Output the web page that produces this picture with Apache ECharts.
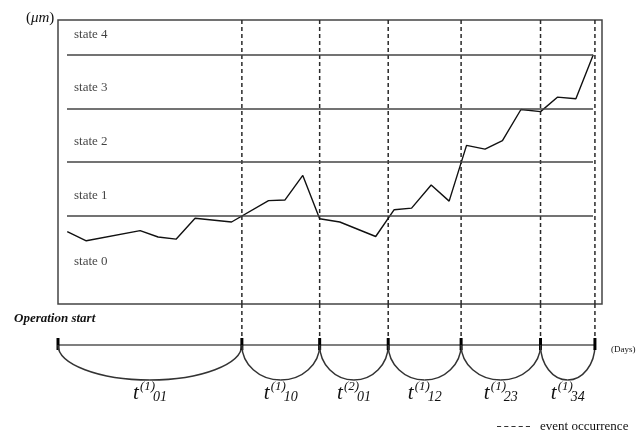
<!DOCTYPE html>
<html><head><meta charset="utf-8">
<script src="https://cdn.jsdelivr.net/npm/echarts@6/dist/echarts.min.js"></script>
<style>html,body{margin:0;padding:0;background:#fff}#c{width:643px;height:434px}</style>
</head><body><div id="c"></div>
<script>
// ---- data ----
const days = [1.7,5.2,15.1,18.4,21.7,25.2,31.9,38.7,41.7,45.0,48.1,51.8,58.4,61.8,65.0,68.6,71.9,75.1,78.5,81.7,85.1,88.7,91.8,95.2,98.4];
const wear = [7.0,5.3,7.2,6.0,5.6,9.5,8.8,12.8,12.9,17.5,9.4,8.8,6.1,11.1,11.4,15.7,12.7,23.1,22.4,24.0,29.8,29.4,32.1,31.8,40.0];
const eventDays = [33.8,48.1,60.7,74.1,88.7,98.7];
const stateBoundaries = [10,20,30,40];
const stateNames = ['state 0','state 1','state 2','state 3','state 4'];
const sojournSup = ['(1)','(1)','(2)','(1)','(1)','(1)'];
const sojournSub = ['01','10','01','12','23','34'];

// ---- layout / style constants ----
const SERIF = '"Liberation Serif", "Times New Roman", serif';
const X_MIN = 0, X_MAX = 100, Y_MIN = -6.5, Y_MAX = 46.5;
const LINE_X0 = 1.65, LINE_X1 = 98.35;
const TL_Y = 41, DASH_END = 32, TICK_TOP = 34, TICK_BOT = 46, ARC_DEPTH = 35;
const ticks = [0].concat(eventDays);

const stateLabelData = stateNames.map((n, k) => [2.94, k === 0 ? stateBoundaries[0] - 8.6 : stateBoundaries[k - 1] + 3.8, n]);

function renderEvents(params, api) {
  const x = api.value(0);
  const a = api.coord([x, Y_MAX]), b = api.coord([x, Y_MIN]);
  return {type: 'line', shape: {x1: a[0], y1: a[1], x2: b[0], y2: b[1]},
    style: {stroke: '#2a2a2a', lineWidth: 1.5, lineDash: [4, 3], fill: null}};
}

function renderTimeline(params, api) {
  const i = params.dataIndex;
  const x = api.value(0);
  const p = api.coord([x, TL_Y]);
  const children = [];
  if (i === 0) {
    const e = api.coord([ticks[ticks.length - 1], TL_Y]);
    children.push({type: 'line', shape: {x1: p[0], y1: p[1], x2: e[0], y2: e[1]},
      style: {stroke: '#555', lineWidth: 1.5}});
  }
  if (i > 0) {
    const top = api.coord([x, 0]), bot = api.coord([x, DASH_END]);
    children.push({type: 'line', shape: {x1: p[0], y1: top[1], x2: p[0], y2: bot[1]},
      style: {stroke: '#2a2a2a', lineWidth: 1.5, lineDash: [4, 3]}});
    const q = api.coord([ticks[i - 1], TL_Y]);
    const bb = api.coord([x, TL_Y + ARC_DEPTH]);
    const rx = (p[0] - q[0]) / 2, ry = bb[1] - p[1], cx = (p[0] + q[0]) / 2, y = p[1], k = 0.5523;
    children.push({type: 'bezierCurve', shape: {x1: q[0], y1: y, cpx1: q[0], cpy1: y + k * ry, cpx2: cx - k * rx, cpy2: y + ry, x2: cx, y2: y + ry},
      style: {stroke: '#333', lineWidth: 1.5, fill: null}});
    children.push({type: 'bezierCurve', shape: {x1: cx, y1: y + ry, cpx1: cx + k * rx, cpy1: y + ry, cpx2: p[0], cpy2: y + k * ry, x2: p[0], y2: y},
      style: {stroke: '#333', lineWidth: 1.5, fill: null}});
    const L = cx - 17;
    const yt = api.coord([x, 89])[1], ys = api.coord([x, 83])[1], yb = api.coord([x, 93.5])[1];
    children.push({type: 'text', x: L, y: yt, style: {text: 't', font: 'italic 21px ' + SERIF, fill: '#111', align: 'left', verticalAlign: 'middle'}});
    children.push({type: 'text', x: L + 7, y: ys, style: {text: sojournSup[i - 1], font: 'italic 13px ' + SERIF, fill: '#111', align: 'left', verticalAlign: 'middle'}});
    children.push({type: 'text', x: L + 20, y: yb, style: {text: sojournSub[i - 1], font: 'italic 14px ' + SERIF, fill: '#111', align: 'left', verticalAlign: 'middle'}});
  }
  const t1 = api.coord([x, TICK_TOP]), t2 = api.coord([x, TICK_BOT]);
  children.push({type: 'line', shape: {x1: p[0], y1: t1[1], x2: p[0], y2: t2[1]},
    style: {stroke: '#000', lineWidth: 3}});
  return {type: 'group', children};
}

const chart = echarts.init(document.getElementById('c'), null, {renderer: 'canvas'});
chart.setOption({
  animation: false,
  backgroundColor: '#fff',
  title: [
    {text: '{p|(}{m|μm}{p|)}', left: 26, top: 11, padding: 0,
      textStyle: {fontWeight: 'normal', rich: {
        p: {fontFamily: SERIF, fontSize: 15, fontWeight: 'normal', color: '#111'},
        m: {fontFamily: SERIF, fontSize: 15, fontStyle: 'italic', fontWeight: 'normal', color: '#111'}}}},
    {text: 'Operation start', left: 14, top: 312, padding: 0,
      textStyle: {fontFamily: SERIF, fontSize: 13, fontStyle: 'italic', fontWeight: 'bold', color: '#111'}},
    {text: '(Days)', left: 611, top: 345, padding: 0,
      textStyle: {fontFamily: SERIF, fontSize: 9, fontWeight: 'normal', color: '#111'}}
  ],
  legend: {
    left: 497, top: 420, padding: 0,
    itemWidth: 33, itemHeight: 2,
    selectedMode: false,
    data: [{name: 'event occurrence', icon: 'path://M0,0H4V1H0Z M7,0H11V1H7Z M14,0H18V1H14Z M21,0H25V1H21Z M28,0H32V1H28Z'}],
    textStyle: {fontFamily: SERIF, fontSize: 13, color: '#111', padding: [0, 0, 0, 5]}
  },
  grid: [
    {left: 58, right: 41, top: 20, bottom: 130, show: true, borderColor: '#444', borderWidth: 1.5, backgroundColor: 'transparent'},
    {left: 58, right: 41, top: 304, bottom: 30, show: false}
  ],
  xAxis: [
    {type: 'value', gridIndex: 0, min: X_MIN, max: X_MAX, show: false},
    {type: 'value', gridIndex: 1, min: X_MIN, max: X_MAX, show: false}
  ],
  yAxis: [
    {type: 'value', gridIndex: 0, min: Y_MIN, max: Y_MAX, show: false},
    {type: 'value', gridIndex: 1, min: 0, max: 100, inverse: true, show: false}
  ],
  series: [
    {type: 'line', name: 'boundaries', xAxisIndex: 0, yAxisIndex: 0, data: [], silent: true,
      markLine: {silent: true, symbol: 'none', label: {show: false},
        lineStyle: {color: '#444', width: 1.5, type: 'solid'},
        data: stateBoundaries.map(v => [{coord: [LINE_X0, v]}, {coord: [LINE_X1, v]}])}},
    {type: 'custom', name: 'event occurrence', xAxisIndex: 0, yAxisIndex: 0, itemStyle: {color: '#333'},
      renderItem: renderEvents, data: eventDays.map(d => [d]), encode: {x: 0}, clip: false, silent: true},
    {type: 'line', name: 'measurement', xAxisIndex: 0, yAxisIndex: 0,
      data: days.map((d, i) => [d, wear[i]]), showSymbol: false, symbol: 'none',
      lineStyle: {color: '#111', width: 1.4}, silent: true},
    {type: 'scatter', name: 'states', xAxisIndex: 0, yAxisIndex: 0, symbolSize: 0, silent: true,
      data: stateLabelData,
      label: {show: true, position: 'right', distance: 0, formatter: p => p.value[2],
        fontFamily: SERIF, fontSize: 13, color: '#111'}},
    {type: 'custom', name: 'timeline', xAxisIndex: 1, yAxisIndex: 1,
      renderItem: renderTimeline, data: ticks.map(d => [d]), encode: {x: 0}, clip: false, silent: true}
  ]
});
</script></body></html>
